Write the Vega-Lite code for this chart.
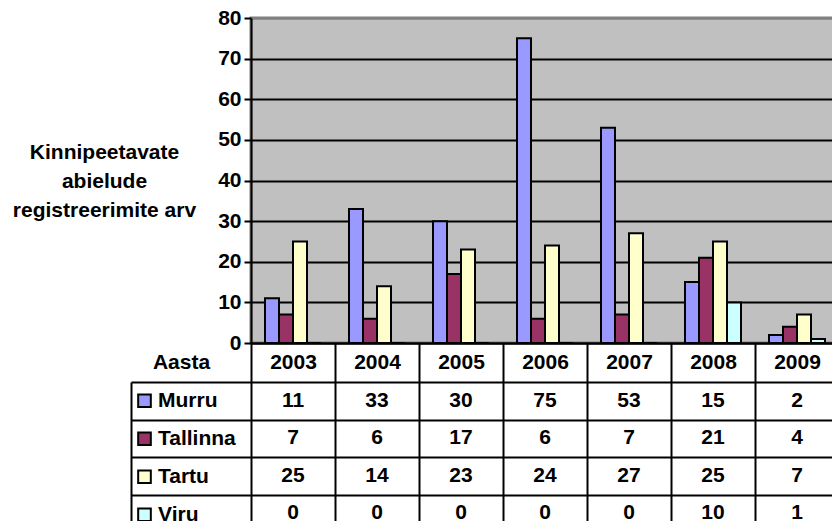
{
  "$schema": "https://vega.github.io/schema/vega-lite/v6.json",
  "background": "white",
  "padding": {"left": 10, "top": 5, "right": 0, "bottom": 0},
  "config": {
    "font": "Liberation Sans",
    "view": {"stroke": null},
    "axis": {
      "labelFont": "Liberation Sans", "labelFontWeight": "bold", "labelFontSize": 21, "labelColor": "black",
      "titleFont": "Liberation Sans", "titleFontWeight": "bold", "titleFontSize": 21, "titleColor": "black",
      "domainColor": "black", "tickColor": "black", "gridColor": "black",
      "domainWidth": 2, "tickWidth": 2, "gridWidth": 2, "gridOpacity": 1
    },
    "legend": {
      "labelFont": "Liberation Sans", "labelFontWeight": "bold", "labelFontSize": 21, "labelColor": "black",
      "symbolType": "square", "symbolSize": 160, "symbolStrokeColor": "black", "symbolStrokeWidth": 2, "symbolOpacity": 1,
      "labelOffset": 3, "padding": 0, "rowPadding": 0, "clipHeight": 37.5
    }
  },
  "datasets": {
    "d": [
      {"year": "2003", "series": "Murru", "value": 11},
      {"year": "2004", "series": "Murru", "value": 33},
      {"year": "2005", "series": "Murru", "value": 30},
      {"year": "2006", "series": "Murru", "value": 75},
      {"year": "2007", "series": "Murru", "value": 53},
      {"year": "2008", "series": "Murru", "value": 15},
      {"year": "2009", "series": "Murru", "value": 2},
      {"year": "2003", "series": "Tallinna", "value": 7},
      {"year": "2004", "series": "Tallinna", "value": 6},
      {"year": "2005", "series": "Tallinna", "value": 17},
      {"year": "2006", "series": "Tallinna", "value": 6},
      {"year": "2007", "series": "Tallinna", "value": 7},
      {"year": "2008", "series": "Tallinna", "value": 21},
      {"year": "2009", "series": "Tallinna", "value": 4},
      {"year": "2003", "series": "Tartu", "value": 25},
      {"year": "2004", "series": "Tartu", "value": 14},
      {"year": "2005", "series": "Tartu", "value": 23},
      {"year": "2006", "series": "Tartu", "value": 24},
      {"year": "2007", "series": "Tartu", "value": 27},
      {"year": "2008", "series": "Tartu", "value": 25},
      {"year": "2009", "series": "Tartu", "value": 7},
      {"year": "2003", "series": "Viru", "value": 0},
      {"year": "2004", "series": "Viru", "value": 0},
      {"year": "2005", "series": "Viru", "value": 0},
      {"year": "2006", "series": "Viru", "value": 0},
      {"year": "2007", "series": "Viru", "value": 0},
      {"year": "2008", "series": "Viru", "value": 10},
      {"year": "2009", "series": "Viru", "value": 1}
    ]
  },
  "data": {"name": "d"},
  "bounds": "flush",
  "spacing": 39,
  "vconcat": [
    {
      "width": 588,
      "height": 325,
      "view": {"fill": "#C0C0C0", "stroke": "#808080", "strokeWidth": 3},
      "mark": {"type": "bar", "stroke": "black", "strokeWidth": 2},
      "encoding": {
        "x": {
          "field": "year", "type": "nominal",
          "scale": {"paddingInner": 0, "paddingOuter": 0},
          "axis": {
            "title": "Aasta", "titleX": -70, "titleY": 19, "titleAlign": "center", "titleBaseline": "middle", "titleAngle": 0,
            "labelAngle": 0, "tickBand": "extent", "tickSize": 39, "labelPadding": -19.5, "labelBaseline": "middle", "grid": false
          }
        },
        "xOffset": {"field": "series", "type": "nominal", "scale": {"domain": ["Murru", "Tallinna", "Tartu", "Viru"], "paddingInner": 0, "paddingOuter": 1.57}},
        "y": {
          "field": "value", "type": "quantitative",
          "scale": {"domain": [0, 80], "nice": false},
          "axis": {
            "values": [0, 10, 20, 30, 40, 50, 60, 70, 80],
            "grid": true,
            "gridColor": {"condition": {"test": "datum.value == 80", "value": "#808080"}, "value": "black"},
            "tickSize": 7, "labelPadding": 3,
            "title": ["Kinnipeetavate", "abielude", "registreerimite arv"],
            "titleAngle": 0, "titleX": -147, "titleY": 134, "titleAlign": "center", "titleBaseline": "middle", "titleLineHeight": 29
          }
        },
        "color": {
          "field": "series", "type": "nominal",
          "scale": {"domain": ["Murru", "Tallinna", "Tartu", "Viru"], "range": ["#9999FF", "#993366", "#FFFFCC", "#CCFFFF"]},
          "legend": {"orient": "none", "legendX": -117, "legendY": 364, "title": null}
        }
      }
    },
    {
      "width": 588,
      "height": 150,
      "mark": {"type": "text", "fontSize": 21, "fontWeight": "bold", "font": "Liberation Sans", "color": "black", "baseline": "middle"},
      "encoding": {
        "x": {
          "field": "year", "type": "nominal",
          "scale": {"paddingInner": 0, "paddingOuter": 0},
          "axis": {"orient": "top", "labels": false, "ticks": false, "domain": false, "grid": true, "tickBand": "extent", "title": null}
        },
        "y": {
          "field": "series", "type": "nominal",
          "scale": {"domain": ["Murru", "Tallinna", "Tartu", "Viru"], "paddingInner": 0, "paddingOuter": 0},
          "axis": {"labels": false, "offset": 120, "tickSize": -120, "tickBand": "extent", "grid": true, "domain": true, "title": null}
        },
        "text": {"field": "value", "type": "quantitative"}
      }
    }
  ]
}
